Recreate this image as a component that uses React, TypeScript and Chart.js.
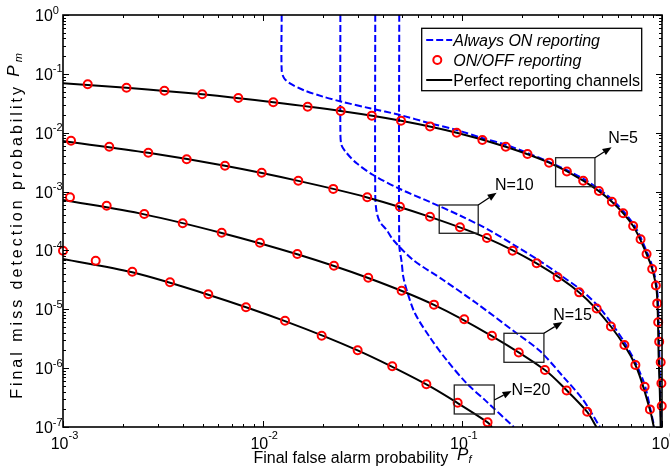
import React, { useEffect, useRef } from "react";
import { Chart, registerables } from "chart.js";

Chart.register(...registerables);

const FONT = '"Liberation Sans", Arial, Helvetica, sans-serif';

// ---------- Axis ranges / ticks ----------
const xDecades = [-3, -2, -1, 0];
const yDecades = [-7, -6, -5, -4, -3, -2, -1, 0];

// ---------- N = 5 ----------
const n5OnOffPf = [1.33e-3, 2.08e-3, 3.22e-3, 4.98e-3, 7.55e-3, 1.13e-2, 1.68e-2, 2.46e-2, 3.52e-2, 4.93e-2, 6.89e-2, 9.37e-2, 0.126, 0.165, 0.212, 0.272, 0.334, 0.403, 0.483, 0.561, 0.639, 0.717, 0.781, 0.837, 0.893, 0.932, 0.946, 0.957, 0.968, 0.985, 0.993, 0.997];
const n5OnOffPm = [6.65e-2, 5.82e-2, 5.18e-2, 4.49e-2, 3.89e-2, 3.29e-2, 2.77e-2, 2.34e-2, 1.95e-2, 1.6e-2, 1.28e-2, 1.0e-2, 7.52e-3, 5.79e-3, 4.35e-3, 3.1e-3, 2.19e-3, 1.53e-3, 1.02e-3, 6.73e-4, 4.28e-4, 2.6e-4, 1.55e-4, 8.7e-5, 4.84e-5, 2.54e-5, 1.26e-5, 6.01e-6, 2.82e-6, 1.26e-6, 5.53e-7, 2.28e-7];
const n5PerfectPf = [1e-3, 2.08e-3, 4.98e-3, 1.13e-2, 2.46e-2, 4.93e-2, 9.37e-2, 0.165, 0.272, 0.403, 0.561, 0.717, 0.837, 0.893, 0.94, 0.955, 0.962, 0.975, 0.985];
const n5PerfectPm = [6.91e-2, 5.82e-2, 4.49e-2, 3.29e-2, 2.34e-2, 1.6e-2, 1.0e-2, 5.79e-3, 3.1e-3, 1.53e-3, 6.73e-4, 2.6e-4, 8.7e-5, 4.84e-5, 2.1e-5, 6e-6, 1.6e-6, 4e-7, 1e-7];
const n5AlwaysPf = [1.245e-2, 1.245e-2, 1.279e-2, 1.37e-2, 1.597e-2, 2.012e-2, 2.486e-2, 3.445e-2, 4.87e-2, 6.885e-2, 9.366e-2, 0.1268, 0.1667, 0.2643, 0.41, 0.57, 0.725, 0.845, 0.9, 0.945, 0.962, 0.97, 0.98, 0.99];
const n5AlwaysPm = [1, 0.1163, 8.5e-2, 6.91e-2, 5.32e-2, 4.09e-2, 3.365e-2, 2.6e-2, 2.0e-2, 1.445e-2, 1.112e-2, 8.04e-3, 6.18e-3, 3.31e-3, 1.6e-3, 7.0e-4, 2.7e-4, 9.0e-5, 5.0e-5, 2.2e-5, 6e-6, 1.6e-6, 4e-7, 1e-7];

// ---------- N = 10 ----------
const n10OnOffPf = [1.097e-3, 1.705e-3, 2.674e-3, 4.163e-3, 6.475e-3, 9.885e-3, 1.508e-2, 2.257e-2, 3.34e-2, 4.87e-2, 6.885e-2, 9.73e-2, 0.1328, 0.1786, 0.2356, 0.3001, 0.3849, 0.4705, 0.5548, 0.6482, 0.7358, 0.8184, 0.8698];
const n10OnOffPm = [7.32e-3, 5.79e-3, 4.58e-3, 3.54e-3, 2.75e-3, 2.09e-3, 1.53e-3, 1.11e-3, 7.99e-4, 5.54e-4, 3.74e-4, 2.47e-4, 1.63e-4, 9.9e-5, 6.05e-5, 3.5e-5, 1.94e-5, 1.03e-5, 5.1e-6, 2.47e-6, 1.13e-6, 4.84e-7, 1.99e-7];
const n10PerfectPf = [1e-3, 2.674e-3, 6.475e-3, 1.508e-2, 3.34e-2, 6.885e-2, 0.1328, 0.2356, 0.3849, 0.5548, 0.7358, 0.8698, 0.91];
const n10PerfectPm = [7.2e-3, 4.55e-3, 2.74e-3, 1.52e-3, 7.95e-4, 3.72e-4, 1.62e-4, 6.0e-5, 1.93e-5, 5.1e-6, 1.13e-6, 1.98e-7, 1e-7];
const n10AlwaysPf = [2.45e-2, 2.45e-2, 2.481e-2, 2.634e-2, 2.956e-2, 3.579e-2, 4.87e-2, 6.885e-2, 9.73e-2, 0.1375, 0.187, 0.245, 0.31, 0.395, 0.48, 0.565, 0.655, 0.742, 0.822, 0.875, 0.915];
const n10AlwaysPm = [1, 1.112e-2, 6.18e-3, 4.52e-3, 3.024e-3, 1.913e-3, 1.106e-3, 6.65e-4, 3.92e-4, 2.18e-4, 1.16e-4, 6.6e-5, 3.8e-5, 2.1e-5, 1.12e-5, 5.5e-6, 2.6e-6, 1.18e-6, 5.0e-7, 2.0e-7, 1e-7];

// ---------- N = 15 ----------
const n15OnOffPf = [1.084e-3, 1.655e-3, 2.553e-3, 3.976e-3, 6.233e-3, 9.69e-3, 1.491e-2, 2.275e-2, 3.379e-2, 4.966e-2, 7.21e-2, 0.1022, 0.1407, 0.1917, 0.2592, 0.333, 0.4221];
const n15OnOffPm = [7.99e-4, 5.76e-4, 4.16e-4, 2.89e-4, 2.0e-4, 1.35e-4, 8.7e-5, 5.5e-5, 3.43e-5, 2.07e-5, 1.2e-5, 6.76e-6, 3.55e-6, 1.85e-6, 9.31e-7, 4.17e-7, 1.82e-7];
const n15PerfectPf = [1e-3, 2.553e-3, 6.233e-3, 1.491e-2, 3.379e-2, 7.21e-2, 0.1407, 0.2592, 0.333, 0.4221, 0.4695];
const n15PerfectPm = [7.2e-4, 4.1e-4, 1.98e-4, 8.6e-5, 3.4e-5, 1.19e-5, 3.5e-6, 9.3e-7, 4.2e-7, 1.8e-7, 1e-7];
const n15AlwaysPf = [3.663e-2, 3.663e-2, 3.723e-2, 3.867e-2, 4.178e-2, 4.508e-2, 5.677e-2, 8.02e-2, 0.1179, 0.187, 0.245, 0.32, 0.403, 0.4887];
const n15AlwaysPm = [1, 8.75e-4, 4.5e-4, 3.04e-4, 2.225e-4, 1.504e-4, 6.88e-5, 3.146e-5, 1.264e-5, 3.91e-6, 1.95e-6, 7.16e-7, 2.88e-7, 1e-7];

// ---------- N = 20 ----------
const n20OnOffPf = [1.0e-3, 1.458e-3, 2.223e-3, 3.434e-3, 5.341e-3, 8.25e-3, 1.294e-2, 1.975e-2, 2.99e-2, 4.457e-2, 6.604e-2, 9.475e-2, 0.1338];
const n20OnOffPm = [9.9e-5, 6.69e-5, 4.35e-5, 2.88e-5, 1.8e-5, 1.08e-5, 6.4e-6, 3.56e-6, 2.02e-6, 1.08e-6, 5.34e-7, 2.59e-7, 1.2e-7];
const n20PerfectPf = [1e-3, 2.223e-3, 5.341e-3, 1.294e-2, 2.99e-2, 6.604e-2, 9.475e-2, 0.1338, 0.1407];
const n20PerfectPm = [7.15e-5, 4.25e-5, 1.77e-5, 6.3e-6, 2.0e-6, 5.3e-7, 2.55e-7, 1.2e-7, 1e-7];
const n20AlwaysPf = [4.831e-2, 4.831e-2, 4.966e-2, 5.06e-2, 5.262e-2, 5.789e-2, 6.885e-2, 8.34e-2, 0.1051, 0.1323, 0.181];
const n20AlwaysPm = [1, 1.237e-4, 6.36e-5, 3.58e-5, 2.128e-5, 8.55e-6, 3.32e-6, 1.376e-6, 5.53e-7, 2.7e-7, 1e-7];

// ---------- Legend / annotation text ----------
const legendLabels = ["Always ON reporting", "ON/OFF reporting", "Perfect reporting channels"];
const annLabels = ["N=5", "N=10", "N=15", "N=20"];
// annotation boxes in data coordinates: [pfLeft, pfRight, pmTop, pmBottom]
const annBoxes = [
  [0.2932, 0.4613, 3.763e-3, 1.21e-3],
  [7.66e-2, 0.1201, 5.916e-4, 1.955e-4],
  [0.1616, 0.2562, 3.91e-6, 1.257e-6],
  [9.11e-2, 0.1445, 5.17e-7, 1.664e-7],
];
// arrow start, arrow tip, text anchor (data coordinates)
const annArrowFrom = [[0.4613, 3.763e-3], [0.1201, 5.916e-4], [0.2562, 3.91e-6], [0.1445, 2.88e-7]];
const annArrowTip = [[0.5593, 5.65e-3], [0.1485, 9.57e-4], [0.3172, 6.085e-6], [0.1765, 4.09e-7]];
const annTextAt = [[0.5377, 6.61e-3], [0.1456, 1.063e-3], [0.2852, 6.58e-6], [0.1765, 3.5e-7]];

function pts(xs: number[], ys: number[]) {
  return xs.map((x, i) => ({ x, y: ys[i] }));
}

const BLUE = "#0000ff";
const RED = "#ff0000";
const DASH = [7, 3];

function alwaysDs(xs: number[], ys: number[]) {
  return {
    data: pts(xs, ys),
    showLine: true,
    borderColor: BLUE,
    borderWidth: 2,
    borderDash: DASH,
    pointRadius: 0,
    tension: 0.3,
    order: 3,
  };
}
function perfectDs(xs: number[], ys: number[]) {
  return {
    data: pts(xs, ys),
    showLine: true,
    borderColor: "#000",
    borderWidth: 2,
    pointRadius: 0,
    tension: 0.3,
    order: 2,
  };
}
function onoffDs(xs: number[], ys: number[]) {
  return {
    data: pts(xs, ys),
    showLine: false,
    borderColor: RED,
    backgroundColor: "rgba(0,0,0,0)",
    pointBackgroundColor: "rgba(0,0,0,0)",
    pointBorderColor: RED,
    pointBorderWidth: 2,
    borderWidth: 2,
    pointRadius: 4,
    pointStyle: "circle",
    clip: false,
    order: 1,
  };
}

type Seg = { t: string; font: string; dy: number };
function segWidth(ctx: CanvasRenderingContext2D, s: Seg, spacing: number) {
  ctx.font = s.font;
  if (!spacing) return ctx.measureText(s.t).width;
  let w = 0;
  for (const ch of s.t) w += ctx.measureText(ch).width + spacing;
  return w;
}
function drawRich(ctx: CanvasRenderingContext2D, segs: Seg[], x: number, y: number, align: "left" | "center", spacing = 0) {
  const ws = segs.map((s) => segWidth(ctx, s, spacing));
  const total = ws.reduce((p, c) => p + c, 0) - spacing;
  let cx = align === "center" ? x - total / 2 : x;
  ctx.textAlign = "left";
  ctx.textBaseline = "alphabetic";
  segs.forEach((s, i) => {
    ctx.font = s.font;
    if (!spacing) {
      ctx.fillText(s.t, cx, y + s.dy);
      cx += ws[i];
    } else {
      for (const ch of s.t) {
        ctx.fillText(ch, cx, y + s.dy);
        cx += ctx.measureText(ch).width + spacing;
      }
    }
  });
}

const decorPlugin = {
  id: "decor",
  afterDraw(chart: any) {
    const { ctx, chartArea: a, scales } = chart;
    const xs = scales.x;
    const ys = scales.y;
    ctx.save();

    // tick marks (inward, both sides)
    ctx.strokeStyle = "#000";
    ctx.lineWidth = 1;
    ctx.beginPath();
    xDecades.forEach((e) => {
      for (let k = 1; k <= 9; k++) {
        const v = k * Math.pow(10, e);
        if (v > 1.0001) break;
        const px = Math.round(xs.getPixelForValue(v)) + 0.5;
        const len = k === 1 ? 6 : 3;
        ctx.moveTo(px, a.bottom);
        ctx.lineTo(px, a.bottom - len);
        ctx.moveTo(px, a.top);
        ctx.lineTo(px, a.top + len);
      }
    });
    yDecades.forEach((e) => {
      for (let k = 1; k <= 9; k++) {
        const v = k * Math.pow(10, e);
        if (v > 1.0001) break;
        const py = Math.round(ys.getPixelForValue(v)) + 0.5;
        const len = k === 1 ? 6 : 3;
        ctx.moveTo(a.left, py);
        ctx.lineTo(a.left + len, py);
        ctx.moveTo(a.right, py);
        ctx.lineTo(a.right - len, py);
      }
    });
    ctx.stroke();

    // axes box
    ctx.lineWidth = 1.6;
    ctx.strokeRect(a.left, a.top, a.right - a.left, a.bottom - a.top);

    // tick labels
    ctx.fillStyle = "#000";
    const baseFont = `16px ${FONT}`;
    const expFont = `11px ${FONT}`;
    yDecades.forEach((e) => {
      const py = ys.getPixelForValue(Math.pow(10, e));
      drawRich(ctx, [
        { t: "10", font: baseFont, dy: 6 },
        { t: String(e), font: expFont, dy: -1.5 },
      ], a.left - 28, py, "left");
    });
    xDecades.forEach((e) => {
      const px = xs.getPixelForValue(Math.pow(10, e));
      drawRich(ctx, [
        { t: "10", font: baseFont, dy: 0 },
        { t: String(e), font: expFont, dy: -10 },
      ], px + 1.5, a.bottom + 21.5, "center");
    });

    // axis titles
    drawRich(ctx, [
      { t: "Final false alarm probability  ", font: `16px ${FONT}`, dy: 0 },
      { t: "P", font: `italic 17px ${FONT}`, dy: -3 },
      { t: "f", font: `italic 11px ${FONT}`, dy: 0 },
    ], (a.left + a.right) / 2, a.bottom + 36, "center");

    ctx.save();
    ctx.translate(22, (a.top + a.bottom) / 2 + 5);
    ctx.rotate(-Math.PI / 2);
    drawRich(ctx, [
      { t: "Final miss detection probability ", font: `16px ${FONT}`, dy: 0 },
      { t: "P", font: `italic 17px ${FONT}`, dy: -3 },
      { t: "m", font: `italic 11px ${FONT}`, dy: 0 },
    ], 0, 0, "center", 3.0);
    ctx.restore();

    // annotations
    annBoxes.forEach((b, i) => {
      const x0 = xs.getPixelForValue(b[0]);
      const x1 = xs.getPixelForValue(b[1]);
      const y0 = ys.getPixelForValue(b[2]);
      const y1 = ys.getPixelForValue(b[3]);
      ctx.strokeStyle = "#222";
      ctx.lineWidth = 1.3;
      ctx.strokeRect(x0, y0, x1 - x0, y1 - y0);
      const fx = xs.getPixelForValue(annArrowFrom[i][0]);
      const fy = ys.getPixelForValue(annArrowFrom[i][1]);
      const tx = xs.getPixelForValue(annArrowTip[i][0]);
      const ty = ys.getPixelForValue(annArrowTip[i][1]);
      const ang = Math.atan2(ty - fy, tx - fx);
      const hl = 9;
      const hw = 3.6;
      const bx = tx - hl * Math.cos(ang);
      const by = ty - hl * Math.sin(ang);
      ctx.strokeStyle = "#000";
      ctx.lineWidth = 1.3;
      ctx.beginPath();
      ctx.moveTo(fx, fy);
      ctx.lineTo(bx, by);
      ctx.stroke();
      ctx.fillStyle = "#000";
      ctx.beginPath();
      ctx.moveTo(tx, ty);
      ctx.lineTo(bx + hw * Math.sin(ang), by - hw * Math.cos(ang));
      ctx.lineTo(bx - hw * Math.sin(ang), by + hw * Math.cos(ang));
      ctx.closePath();
      ctx.fill();
      const lx = xs.getPixelForValue(annTextAt[i][0]);
      const ly = ys.getPixelForValue(annTextAt[i][1]);
      ctx.font = `16px ${FONT}`;
      ctx.textAlign = "left";
      ctx.textBaseline = "alphabetic";
      ctx.fillText(annLabels[i], lx, ly);
    });

    // legend
    const L = a.right - 240.3;
    const T = a.top + 13.3;
    ctx.fillStyle = "#fff";
    ctx.fillRect(L, T, 220, 62.4);
    ctx.strokeStyle = "#000";
    ctx.lineWidth = 1.3;
    ctx.strokeRect(L, T, 220, 62.4);
    const rows = [T + 11.7, T + 31.7, T + 51.7];
    ctx.strokeStyle = BLUE;
    ctx.lineWidth = 2;
    ctx.setLineDash(DASH);
    ctx.beginPath();
    ctx.moveTo(L + 4.5, rows[0]);
    ctx.lineTo(L + 30.5, rows[0]);
    ctx.stroke();
    ctx.setLineDash([]);
    ctx.strokeStyle = RED;
    ctx.beginPath();
    ctx.arc(L + 15.6, rows[1], 4, 0, Math.PI * 2);
    ctx.stroke();
    ctx.strokeStyle = "#000";
    ctx.beginPath();
    ctx.moveTo(L + 4.5, rows[2]);
    ctx.lineTo(L + 30.5, rows[2]);
    ctx.stroke();
    ctx.fillStyle = "#000";
    ctx.textAlign = "left";
    ctx.textBaseline = "alphabetic";
    ctx.font = `italic 16px ${FONT}`;
    ctx.fillText(legendLabels[0], L + 31.6, rows[0] + 5.7);
    ctx.fillText(legendLabels[1], L + 31.6, rows[1] + 5.7);
    ctx.font = `16px ${FONT}`;
    ctx.fillText(legendLabels[2], L + 31.6, rows[2] + 5.7);

    ctx.restore();
  },
};

export default function App() {
  const ref = useRef<HTMLCanvasElement>(null);
  useEffect(() => {
    if (!ref.current) return;
    const chart = new Chart(ref.current, {
      type: "scatter",
      data: {
        datasets: [
          onoffDs(n5OnOffPf, n5OnOffPm),
          onoffDs(n10OnOffPf, n10OnOffPm),
          onoffDs(n15OnOffPf, n15OnOffPm),
          onoffDs(n20OnOffPf, n20OnOffPm),
          perfectDs(n5PerfectPf, n5PerfectPm),
          perfectDs(n10PerfectPf, n10PerfectPm),
          perfectDs(n15PerfectPf, n15PerfectPm),
          perfectDs(n20PerfectPf, n20PerfectPm),
          alwaysDs(n5AlwaysPf, n5AlwaysPm),
          alwaysDs(n10AlwaysPf, n10AlwaysPm),
          alwaysDs(n15AlwaysPf, n15AlwaysPm),
          alwaysDs(n20AlwaysPf, n20AlwaysPm),
        ] as any,
      },
      options: {
        animation: false,
        responsive: false,
        maintainAspectRatio: false,
        events: [],
        layout: { padding: { left: 63, top: 15, right: 8, bottom: 47 } },
        plugins: { legend: { display: false }, tooltip: { enabled: false } },
        scales: {
          x: { type: "logarithmic", min: 1e-3, max: 1, display: false },
          y: { type: "logarithmic", min: 1e-7, max: 1, display: false },
        },
      } as any,
      plugins: [decorPlugin],
    });
    return () => chart.destroy();
  }, []);
  return (
    <div style={{ position: "absolute", left: 0, top: 0, width: 670, height: 474, background: "#fff", overflow: "hidden" }}>
      <canvas ref={ref} width={670} height={474} style={{ display: "block" }} />
    </div>
  );
}
